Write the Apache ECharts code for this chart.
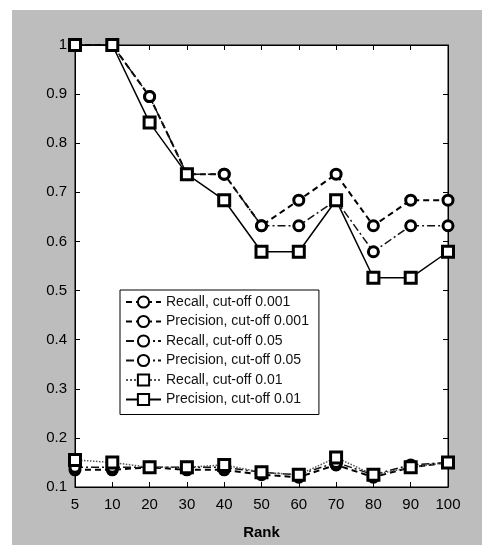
<!DOCTYPE html>
<html>
<head>
<meta charset="utf-8">
<script src="https://cdn.jsdelivr.net/npm/echarts@6/dist/echarts.min.js"></script>
<style>
  html, body { margin: 0; padding: 0; background: #fff; }
  #chart { width: 482px; height: 545px; }
</style>
</head>
<body>
<div id="chart"></div>
<script>
  // rank categories on the x axis
  const ranks = ['5', '10', '20', '30', '40', '50', '60', '70', '80', '90', '100'];

  // recall curves (bottom group)
  const recall001 = [0.135, 0.135, 0.14, 0.135, 0.135, 0.125, 0.12, 0.145, 0.12, 0.14, 0.15];
  const recall005 = [0.14, 0.14, 0.14, 0.14, 0.14, 0.13, 0.125, 0.15, 0.125, 0.145, 0.15];
  const recall01 = [0.155, 0.15, 0.14, 0.14, 0.145, 0.13, 0.125, 0.16, 0.125, 0.14, 0.15];

  // precision curves (top group)
  const precision001 = [1.0, 1.0, 0.895, 0.737, 0.737, 0.632, 0.684, 0.737, 0.632, 0.684, 0.684];
  const precision005 = [1.0, 1.0, 0.895, 0.737, 0.737, 0.632, 0.632, 0.684, 0.579, 0.632, 0.632];
  const precision01 = [1.0, 1.0, 0.842, 0.737, 0.684, 0.579, 0.579, 0.684, 0.526, 0.526, 0.579];

  const chart = echarts.init(document.getElementById('chart'));

  const font = 'Liberation Sans, Arial, sans-serif';

  function mkSeries(name, data, symbol, lineType, width, color) {
    return {
      name: name,
      type: 'line',
      data: data,
      symbol: symbol,
      symbolSize: symbol === 'rect' ? 11 : 10,
      showAllSymbol: true,
      lineStyle: { color: color, width: width, type: lineType },
      itemStyle: { color: '#fff', borderColor: '#000', borderWidth: 3 },
      emphasis: { disabled: true }
    };
  }

  const option = {
    animation: false,
    textStyle: { fontFamily: font },
    graphic: [{
      type: 'rect',
      z: -10,
      shape: { x: 12, y: 10, width: 470, height: 535 },
      style: { fill: '#bdbdbd' }
    }],
    grid: {
      left: 75, right: 34, top: 45, bottom: 52,
      show: true, backgroundColor: '#fff', borderColor: '#000', borderWidth: 1
    },
    legend: {
      orient: 'vertical',
      left: 120, top: 290,
      backgroundColor: '#fff',
      borderColor: '#000', borderWidth: 1, borderRadius: 0,
      padding: [5, 10, 8, 5],
      itemWidth: 35, itemHeight: 14, itemGap: 5.5,
      textStyle: { fontSize: 14, color: '#111', fontFamily: font },
      data: [
        'Recall, cut-off 0.001', 'Precision, cut-off 0.001',
        'Recall, cut-off 0.05', 'Precision, cut-off 0.05',
        'Recall, cut-off 0.01', 'Precision, cut-off 0.01'
      ]
    },
    xAxis: [{
      type: 'category',
      data: ranks,
      boundaryGap: false,
      name: 'Rank',
      nameLocation: 'middle',
      nameGap: 38,
      nameTextStyle: { fontSize: 15, fontWeight: 'bold', color: '#000', fontFamily: font },
      axisLine: { lineStyle: { color: '#000' } },
      axisTick: { inside: true, length: 5, lineStyle: { color: '#000' } },
      axisLabel: { fontSize: 15, color: '#000', margin: 10, fontFamily: font },
      splitLine: { show: false }
    }, {
      type: 'category',
      data: ranks,
      boundaryGap: false,
      position: 'top',
      axisLine: { lineStyle: { color: '#000' } },
      axisTick: { inside: true, length: 5, lineStyle: { color: '#000' } },
      axisLabel: { show: false }
    }],
    yAxis: [{
      type: 'value',
      min: 0.1, max: 1, interval: 0.1,
      axisLine: { show: true, lineStyle: { color: '#000' } },
      axisTick: { show: true, inside: true, length: 5, lineStyle: { color: '#000' } },
      axisLabel: {
        fontSize: 15, color: '#000', margin: 8, fontFamily: font,
        formatter: function (v) { return Math.abs(v - 1) < 1e-9 ? '1' : v.toFixed(1); }
      },
      splitLine: { show: false }
    }, {
      type: 'value',
      min: 0.1, max: 1, interval: 0.1,
      position: 'right',
      axisLine: { show: true, lineStyle: { color: '#000' } },
      axisTick: { show: true, inside: true, length: 5, lineStyle: { color: '#000' } },
      axisLabel: { show: false },
      splitLine: { show: false }
    }],
    series: [
      mkSeries('Recall, cut-off 0.001', recall001, 'circle', [6, 4], 2, '#000'),
      mkSeries('Precision, cut-off 0.001', precision001, 'circle', [6, 4], 2, '#000'),
      mkSeries('Recall, cut-off 0.05', recall005, 'circle', [8, 3, 2, 3], 1.5, '#111'),
      mkSeries('Precision, cut-off 0.05', precision005, 'circle', [8, 3, 2, 3], 1.5, '#111'),
      mkSeries('Recall, cut-off 0.01', recall01, 'rect', 'dotted', 1.5, '#555'),
      mkSeries('Precision, cut-off 0.01', precision01, 'rect', 'solid', 1.5, '#000')
    ]
  };

  chart.setOption(option);
</script>
</body>
</html>
